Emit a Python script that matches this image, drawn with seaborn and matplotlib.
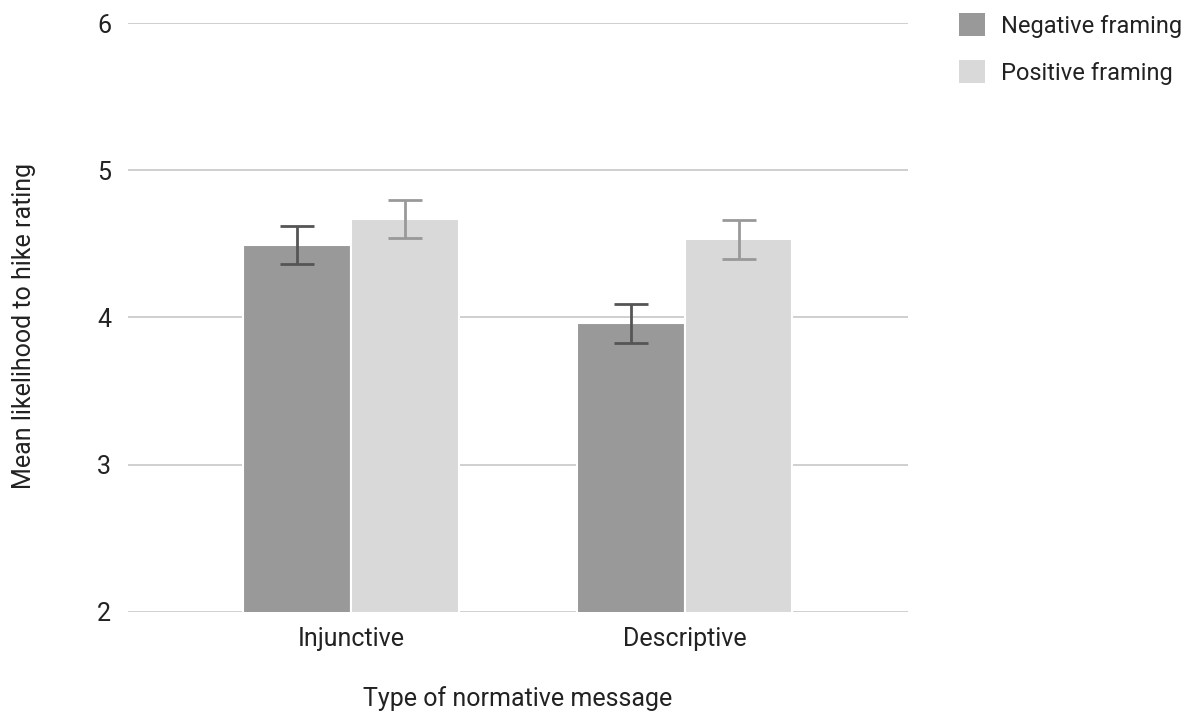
import numpy as np
import pandas as pd
import seaborn as sns
import matplotlib.pyplot as plt
from matplotlib.patches import Patch

# values
categories = ['Injunctive', 'Descriptive']
framings = ['Negative framing', 'Positive framing']
negative_means = [4.49, 3.96]
positive_means = [4.67, 4.53]
negative_err = [0.13, 0.13]
positive_err = [0.13, 0.13]

bar_colors = ['#999999', '#d9d9d9']
err_colors = ['#555555', '#999999']

df = pd.DataFrame({
    'message': categories * 2,
    'framing': [framings[0]] * 2 + [framings[1]] * 2,
    'mean': negative_means + positive_means,
    'err': negative_err + positive_err,
})

sns.set_style('white')
plt.rcParams['font.family'] = ['Roboto', 'DejaVu Sans']

fig = plt.figure(figsize=(11.98, 7.13), dpi=100)
ax = fig.add_axes([0.1068, 0.1417, 0.651, 0.826])

sns.barplot(data=df, x='message', y='mean', hue='framing', order=categories,
            hue_order=framings, palette=bar_colors, errorbar=None,
            width=0.645, edgecolor='white', linewidth=1.5, ax=ax, legend=False,
            zorder=3)

# error bars at bar centres
for i, fr in enumerate(framings):
    cont = ax.containers[i]
    sub = df[df['framing'] == fr].set_index('message').loc[categories]
    xs = [p.get_x() + p.get_width() / 2 for p in cont.patches]
    ax.errorbar(xs, sub['mean'], yerr=sub['err'], fmt='none',
                ecolor=err_colors[i], elinewidth=2, capsize=12, capthick=2,
                zorder=4)

ax.set_ylim(2, 6)
ax.set_xlim(-0.668, 1.668)
ax.set_yticks([2, 3, 4, 5, 6])
ax.grid(axis='y', color='#cccccc', linewidth=1.3, zorder=0)
ax.set_axisbelow(True)
for s in ax.spines.values():
    s.set_visible(False)
ax.tick_params(axis='both', length=0, labelsize=18, colors='#222222')
ax.tick_params(axis='y', pad=12)
ax.tick_params(axis='x', pad=11)

ax.set_xlabel('Type of normative message', fontsize=18, labelpad=25, color='#222222')
ax.set_ylabel('Mean likelihood to hike rating', fontsize=18, labelpad=45, color='#222222')
ax.yaxis.set_label_coords(-0.118, 0.485)

handles = [Patch(facecolor=c, edgecolor='none') for c in bar_colors]
fig.legend(handles, framings, loc='upper left', bbox_to_anchor=(0.783, 1.011),
           frameon=False, fontsize=17, handlelength=1.1, handleheight=1.1,
           handletextpad=0.65, labelspacing=0.95, labelcolor='#222222')

fig.savefig('out.png', dpi=100)
